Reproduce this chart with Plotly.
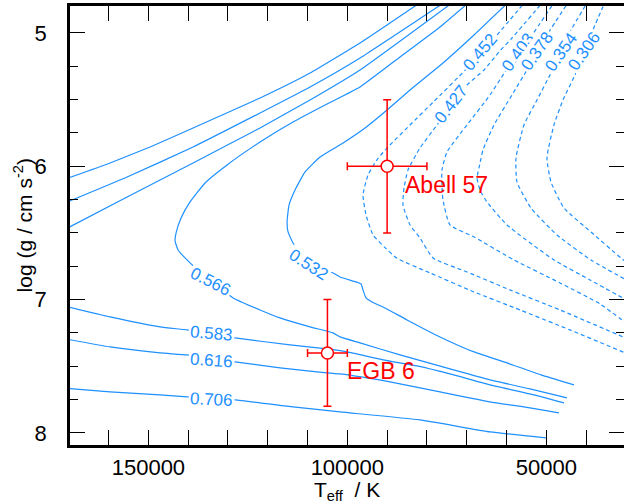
import plotly.graph_objects as go

BLUE = "rgb(30,144,255)"
FONT = "Liberation Sans"

# ---------------- data (Teff in K, log g in cgs) ----------------
# low-mass tracks (dashed)
teff_0452 = [54850, 62390, 66410, 70430, 78470, 84250, 89270, 92290, 94800, 96060, 95300, 93540, 90530, 87510, 79220, 68170, 56610, 44050, 28970]
logg_0452 = [4.75, 5.015, 5.14, 5.28, 5.52, 5.69, 5.84, 5.94, 6.065, 6.215, 6.365, 6.515, 6.61, 6.69, 6.80, 6.9425, 7.0775, 7.2275, 7.415]

teff_0427 = [50330, 58620, 61890, 65650, 69930, 73700, 77460, 81740, 84750, 85760, 86010, 84250, 81740, 78470, 69930, 59120, 46560, 28970]
logg_0427 = [4.75, 5.0375, 5.1425, 5.2775, 5.39, 5.5325, 5.69, 5.8625, 6.0275, 6.1625, 6.29, 6.44, 6.5375, 6.6875, 6.7925, 6.9275, 7.0775, 7.3025]

teff_0403 = [47560, 54100, 56860, 60380, 64150, 69930, 74950, 76210, 76210, 75960, 74200, 68170, 58120, 46560, 36510, 28970]
logg_0403 = [4.75, 5.0375, 5.1425, 5.2925, 5.465, 5.69, 5.8925, 6.0275, 6.1625, 6.2525, 6.44, 6.53, 6.7025, 6.875, 7.0325, 7.1975]

teff_0378 = [44050, 49830, 52090, 54850, 58620, 63140, 65910, 66910, 67410, 66660, 64900, 59880, 48070, 39020, 28970]
logg_0378 = [4.75, 5.015, 5.135, 5.2775, 5.465, 5.69, 5.8775, 6.0125, 6.0875, 6.1775, 6.2675, 6.44, 6.7025, 6.8525, 7.0175]

teff_0354 = [39270, 44050, 46060, 49070, 52340, 55610, 57610, 57360, 53850, 47310, 38770, 28970]
logg_0354 = [4.75, 4.9925, 5.1425, 5.315, 5.5025, 5.69, 5.9375, 6.1175, 6.3125, 6.515, 6.7025, 6.8675]

teff_0306 = [35000, 38270, 40280, 42790, 45810, 48070, 49830, 48820, 45550, 38770, 31230, 26460]
logg_0306 = [4.75, 4.9775, 5.135, 5.315, 5.5025, 5.69, 5.9375, 6.1175, 6.3125, 6.4925, 6.6875, 6.7925]

# higher-mass tracks (solid)
teff_0532 = [58870, 68170, 75960, 84250, 90030, 95550, 101080, 106860, 110630, 113140, 114650, 115150, 114900, 113650, 111890, 109880, 106860, 103590, 101840, 97820, 96560, 96060, 95300, 93800, 90530, 85000, 76710, 68170, 59880, 51330, 43040]
logg_0532 = [4.75, 5.015, 5.225, 5.4275, 5.5775, 5.7125, 5.825, 5.93, 6.0425, 6.1775, 6.29, 6.4175, 6.4925, 6.575, 6.6425, 6.7175, 6.7625, 6.80, 6.83, 6.8675, 6.8825, 6.9275, 6.9875, 7.0175, 7.0625, 7.1525, 7.28, 7.3925, 7.475, 7.565, 7.64]

teff_0566 = [68670, 76710, 86760, 96810, 105100, 113650, 121940, 130230, 135760, 139530, 141790, 143040, 143300, 142540, 141030, 139530, 134500, 128720, 121940, 116910, 109370, 103590, 101840, 96810, 86760, 74200, 64150, 54100, 44800]
logg_0566 = [4.75, 4.955, 5.18, 5.405, 5.5325, 5.6675, 5.8175, 5.99, 6.125, 6.2675, 6.3875, 6.5, 6.56, 6.6275, 6.68, 6.725, 6.86, 6.9875, 7.0775, 7.1375, 7.205, 7.25, 7.28, 7.325, 7.415, 7.52, 7.6025, 7.67, 7.7375]

teff_0583 = [172190, 159630, 147060, 140280, 134250, 128220, 114400, 105100, 100080, 91030, 82490, 74200, 64150, 54100, 45550]
logg_0583 = [7.04, 7.13, 7.205, 7.2275, 7.2575, 7.2875, 7.34, 7.37, 7.3925, 7.4525, 7.4975, 7.5575, 7.64, 7.7075, 7.775]

teff_0616 = [172190, 159630, 147060, 140280, 134250, 128220, 116910, 107610, 101840, 89270, 76710, 64150, 54100, 46810]
logg_0616 = [7.2875, 7.355, 7.40, 7.415, 7.445, 7.4675, 7.5125, 7.5425, 7.5575, 7.6175, 7.6925, 7.7675, 7.8125, 7.85]

teff_0706 = [172190, 159630, 147060, 140280, 134250, 128220, 113650, 101840, 81740, 64150, 50080]
logg_0706 = [7.6625, 7.6925, 7.715, 7.73, 7.745, 7.7525, 7.805, 7.8425, 7.9025, 7.9925, 8.0375]

# early (pre-turn) branches of the most massive tracks, entering from the hot side
teff_hot_a = [172190, 159630, 149580, 138770, 121940, 109370, 96810, 80730]
logg_hot_a = [6.11, 5.975, 5.855, 5.7125, 5.4875, 5.30, 5.075, 4.7525]
teff_hot_b = [172190, 155350, 138770, 121940, 109370, 96810, 74700]
logg_hot_b = [6.29, 6.08, 5.855, 5.60, 5.405, 5.1875, 4.7525]
teff_hot_c = [172190, 155350, 138770, 121940, 109370, 96810, 72690]
logg_hot_c = [6.4925, 6.23, 5.975, 5.7125, 5.5025, 5.2775, 4.7525]

# observed objects
obj_names = ["Abell 57", "EGB 6"]
obj_teff = [90000, 105000]
obj_teff_err = [10000, 5000]
obj_logg = [6.0, 7.4]
obj_logg_err = [0.5, 0.4]

# track mass labels
mass_labels = ["0.452", "0.427", "0.403", "0.378", "0.354", "0.306", "0.532", "0.566", "0.583", "0.616", "0.706"]
label_teff = [66410, 73700, 56860, 52090, 46060, 40280, 109880, 134500, 134250, 134250, 134250]
label_logg = [5.1425, 5.5325, 5.1425, 5.135, 5.1425, 5.135, 6.74, 6.8675, 7.2575, 7.46, 7.7525]
label_angle = [-50, -52, -54, -55, -55, -55, 33, 27, 5, 4, 3]

x_tick_vals = [150000, 100000, 50000]
y_tick_vals = [5, 6, 7, 8]

# ---------------- figure ----------------
fig = go.Figure()

dashed = [(teff_0452, logg_0452), (teff_0427, logg_0427), (teff_0403, logg_0403),
          (teff_0378, logg_0378), (teff_0354, logg_0354), (teff_0306, logg_0306)]
solid = [(teff_0532, logg_0532), (teff_0566, logg_0566), (teff_0583, logg_0583),
         (teff_0616, logg_0616), (teff_0706, logg_0706),
         (teff_hot_a, logg_hot_a), (teff_hot_b, logg_hot_b), (teff_hot_c, logg_hot_c)]

for tx, gy in dashed:
    fig.add_trace(go.Scatter(x=tx, y=gy, mode="lines", hoverinfo="skip", showlegend=False,
                             line=dict(color=BLUE, width=1.2, dash="4px,3px", shape="spline", smoothing=0.5)))
for tx, gy in solid:
    fig.add_trace(go.Scatter(x=tx, y=gy, mode="lines", hoverinfo="skip", showlegend=False,
                             line=dict(color=BLUE, width=1.2, shape="spline", smoothing=0.4)))

fig.add_trace(go.Scatter(
    x=obj_teff, y=obj_logg, mode="markers", showlegend=False,
    marker=dict(symbol="circle", size=12, color="white", line=dict(color="red", width=1.5)),
    error_x=dict(type="data", array=obj_teff_err, color="red", thickness=1.5, width=4),
    error_y=dict(type="data", array=obj_logg_err, color="red", thickness=1.5, width=4),
))
# empty trace on the right-hand mirror axis
fig.add_trace(go.Scatter(x=[], y=[], yaxis="y2", showlegend=False))

annotations = []
for t, x, y, a in zip(mass_labels, label_teff, label_logg, label_angle):
    annotations.append(dict(x=x, y=y, xref="x", yref="y", text=t, showarrow=False, textangle=a,
                            font=dict(family=FONT, size=17, color=BLUE),
                            bgcolor="white", borderpad=1, xanchor="center", yanchor="middle"))

obj_label_pos = [(86000, 6.14), (100600, 7.535)]
for name, (x, y) in zip(obj_names, obj_label_pos):
    annotations.append(dict(x=x, y=y, xref="x", yref="y", text=name, showarrow=False,
                            font=dict(family=FONT, size=23, color="red"),
                            xanchor="left", yanchor="middle"))

annotations.append(dict(text="T<sub>eff</sub>  / K", xref="paper", yref="paper", x=0.5, y=-0.104,
                        showarrow=False, xanchor="center", yanchor="middle",
                        font=dict(family=FONT, size=21, color="black")))
annotations.append(dict(text="log (g / cm s<sup>-2</sup>)", xref="paper", yref="paper", x=-0.085, y=0.5,
                        showarrow=False, textangle=-90, xanchor="center", yanchor="middle",
                        font=dict(family=FONT, size=21, color="black")))

minor_x = dict(dtick=10000, tick0=0, ticks="inside", ticklen=8, tickwidth=1, tickcolor="black")
minor_y = dict(dtick=0.25, tick0=0, ticks="inside", ticklen=8, tickwidth=1, tickcolor="black")

fig.update_layout(
    width=624, height=503,
    margin=dict(l=70, r=0, t=6, b=58),
    paper_bgcolor="white", plot_bgcolor="white",
    font=dict(family=FONT, size=21, color="black"),
    annotations=annotations,
    xaxis=dict(range=[169700, 30470], tickmode="array", tickvals=x_tick_vals, tickformat="d",
               ticks="inside", ticklen=15, tickwidth=1.2, tickcolor="black",
               showline=True, linecolor="black", linewidth=2.5, mirror="allticks",
               showgrid=False, zeroline=False, ticklabelstandoff=1,
               tickfont=dict(family=FONT, size=22, color="black"), minor=minor_x),
    yaxis=dict(range=[8.0908, 4.7975], tickmode="array", tickvals=y_tick_vals,
               ticks="inside", ticklen=15, tickwidth=1.2, tickcolor="black",
               showline=True, linecolor="black", linewidth=2.5, mirror=False,
               showgrid=False, zeroline=False, ticklabelstandoff=16,
               tickfont=dict(family=FONT, size=22, color="black"), minor=minor_y),
    yaxis2=dict(range=[8.0908, 4.7975], overlaying="y", side="right", anchor="x",
                tickmode="array", tickvals=y_tick_vals,
                ticks="inside", ticklen=15, tickwidth=1.2, tickcolor="black",
                showline=False, showticklabels=False, showgrid=False, zeroline=False, minor=minor_y),
)

fig.write_html("out.html", config={"displayModeBar": False},
               post_script="document.body.style.margin='0px';")
